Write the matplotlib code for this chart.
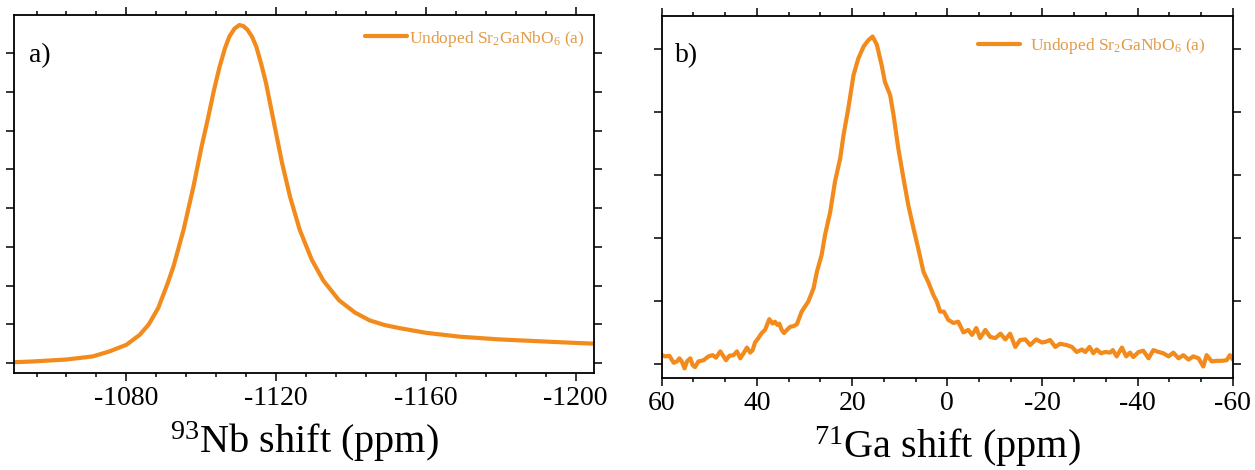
import matplotlib
matplotlib.use("Agg")
import matplotlib.pyplot as plt
from matplotlib.ticker import AutoMinorLocator, NullFormatter

plt.rcParams['font.family'] = ['Liberation Serif', 'DejaVu Serif']
plt.rcParams['mathtext.default'] = 'regular'
plt.rcParams['axes.unicode_minus'] = False

# 93Nb spectrum (ppm, intensity)
nb_shift = [-1050, -1055, -1064, -1071, -1075.5, -1080, -1083.6, -1086.0, -1088.5,
            -1091.0, -1092.6, -1095.3, -1097.9, -1100.0, -1101.8, -1103.4, -1104.9,
            -1106.3, -1107.5, -1108.9, -1110.2, -1111.3, -1112.4, -1113.6, -1114.7,
            -1116.0, -1117.3, -1119.1, -1121.6, -1123.7, -1126.3, -1129.5, -1132.6,
            -1136.8, -1141.1, -1145.0, -1149.0, -1153.0, -1160.0, -1169.0, -1179.5,
            -1188.4, -1197.3, -1204.7]
nb_int = [0.02, 0.04, 0.09, 0.17, 0.30, 0.47, 0.73, 1.00, 1.42,
          2.05, 2.50, 3.45, 4.55, 5.55, 6.32, 7.05, 7.65,
          8.12, 8.43, 8.64, 8.73, 8.70, 8.60, 8.42, 8.17,
          7.73, 7.23, 6.36, 5.16, 4.30, 3.44, 2.67, 2.13,
          1.62, 1.30, 1.10, 0.98, 0.90, 0.78, 0.68, 0.61,
          0.57, 0.53, 0.50]

# 71Ga spectrum (ppm, intensity)
ga_shift = [60.0, 59.3, 58.4, 57.5, 56.8, 56.3, 55.8, 55.2, 54.7, 54.0, 53.5, 53.0,
            52.3, 51.2, 50.2, 49.3, 48.6, 47.7, 47.0, 46.5, 45.8, 44.9, 44.2, 43.5,
            42.8, 42.1, 41.4, 40.9, 40.4, 39.7, 39.0, 38.3, 37.4, 36.7, 36.2, 35.7,
            35.3, 34.8, 34.3, 33.7, 33.0, 32.3, 31.6, 30.6, 29.2, 28.1, 27.4, 26.4,
            25.7, 24.6, 23.6, 22.5, 21.8, 20.8, 19.7, 18.7, 17.6, 16.6, 15.7, 14.8,
            13.8, 13.1, 12.0, 11.3, 10.3, 9.2, 8.2, 7.1, 6.1, 5.0, 4.0, 2.9,
            2.2, 1.5, 0.7, -0.2, -1.3, -2.3, -3.4, -4.4, -5.2, -6.1, -6.9, -8.0,
            -9.0, -10.1, -11.2, -12.2, -13.2, -14.3, -15.3, -16.4, -17.4, -18.7, -19.9, -20.6,
            -21.6, -22.7, -23.7, -25.1, -26.2, -27.2, -28.3, -29.0, -29.9, -30.7, -31.4, -32.3,
            -33.2, -34.2, -34.8, -35.6, -36.7, -37.6, -38.4, -39.1, -40.2, -41.2, -42.3, -43.3,
            -44.4, -45.4, -46.5, -47.5, -48.6, -49.6, -50.7, -51.7, -52.8, -53.8, -54.5, -55.6,
            -56.6, -57.7, -58.7, -59.4, -60.0]
ga_int = [0.14, 0.12, 0.13, 0.02, 0.04, 0.09, 0.04, -0.07, 0.04, 0.09, -0.02, -0.05,
          0.04, 0.06, 0.12, 0.14, 0.10, 0.20, 0.12, 0.06, 0.13, 0.14, 0.20, 0.09,
          0.17, 0.26, 0.18, 0.22, 0.34, 0.41, 0.49, 0.54, 0.71, 0.64, 0.67, 0.62,
          0.64, 0.54, 0.49, 0.54, 0.59, 0.60, 0.63, 0.83, 0.99, 1.20, 1.46, 1.73,
          2.04, 2.41, 2.89, 3.26, 3.63, 4.05, 4.58, 4.84, 5.03, 5.13, 5.19, 5.06,
          4.74, 4.47, 4.26, 3.95, 3.42, 2.94, 2.52, 2.15, 1.83, 1.46, 1.30, 1.09,
          0.99, 0.83, 0.83, 0.70, 0.65, 0.67, 0.50, 0.54, 0.46, 0.57, 0.41, 0.54,
          0.43, 0.41, 0.48, 0.39, 0.48, 0.27, 0.38, 0.39, 0.30, 0.39, 0.34, 0.35,
          0.38, 0.27, 0.32, 0.30, 0.27, 0.19, 0.23, 0.19, 0.27, 0.17, 0.23, 0.17,
          0.19, 0.18, 0.22, 0.12, 0.26, 0.12, 0.18, 0.11, 0.19, 0.21, 0.09, 0.22,
          0.19, 0.17, 0.12, 0.18, 0.09, 0.14, 0.07, 0.12, 0.09, -0.04, 0.14, 0.04,
          0.05, 0.05, 0.06, 0.14, 0.07]

series_label = 'Undoped Sr$_2$GaNbO$_6$ (a)'
nb_ticks = [-1080, -1120, -1160, -1200]
ga_ticks = [60, 40, 20, 0, -20, -40, -60]

line_color = '#F28A1C'
legend_text_color = '#E39A45'

fig = plt.figure(figsize=(12.55, 4.70), dpi=100)
ax_a = fig.add_axes([0.0112, 0.2064, 0.4624, 0.7610])
ax_b = fig.add_axes([0.5273, 0.1951, 0.4550, 0.7715])


def style_axis(ax, xticks, minor_n, yticks):
    ax.set_xticks(xticks)
    ax.set_xticklabels([str(t) for t in xticks])
    ax.xaxis.set_minor_locator(AutoMinorLocator(minor_n))
    ax.set_yticks(yticks)
    ax.yaxis.set_major_formatter(NullFormatter())
    ax.tick_params(axis='both', which='both', direction='out',
                   top=True, right=True, labelsize=20, width=1.1, pad=4)
    ax.tick_params(axis='both', which='major', length=5.5)
    ax.tick_params(axis='both', which='minor', length=3)
    ax.tick_params(axis='y', which='both', labelleft=False, labelright=False)
    for s in ax.spines.values():
        s.set_linewidth(1.3)


# Panel a: 93Nb
ax_a.plot(nb_shift, nb_int, color=line_color, lw=3.0, label=series_label,
          solid_joinstyle='round', solid_capstyle='round')
ax_a.set_xlim(-1050, -1205)
ax_a.set_ylim(-0.258, 8.98)
style_axis(ax_a, nb_ticks, 5, list(range(0, 9)))
ax_a.set_xlabel('$^{93}$Nb shift (ppm)', fontsize=29, labelpad=6)
ax_a.text(0.026, 0.869, 'a)', transform=ax_a.transAxes, fontsize=20,
          ha='left', va='baseline')
ax_a.legend(loc='center right', bbox_to_anchor=(0.984, 0.935),
            frameon=False, fontsize=12.5, handlelength=2.4,
            handletextpad=0.15, borderpad=0, borderaxespad=0,
            labelcolor=legend_text_color)

# Panel b: 71Ga
ax_b.plot(ga_shift, ga_int, color=line_color, lw=3.0, label=series_label,
          solid_joinstyle='round', solid_capstyle='round')
ax_b.set_xlim(60, -60)
ax_b.set_ylim(-0.227, 5.52)
style_axis(ax_b, ga_ticks, 3, list(range(0, 6)))
ax_b.set_xlabel('$^{71}$Ga shift (ppm)', fontsize=29, labelpad=6)
ax_b.text(0.023, 0.872, 'b)', transform=ax_b.transAxes, fontsize=20,
          ha='left', va='baseline')
ax_b.legend(loc='center right', bbox_to_anchor=(0.953, 0.917),
            frameon=False, fontsize=12.5, handlelength=2.4,
            handletextpad=0.6, borderpad=0, borderaxespad=0,
            labelcolor=legend_text_color)

fig.savefig('out.png', dpi=100)
